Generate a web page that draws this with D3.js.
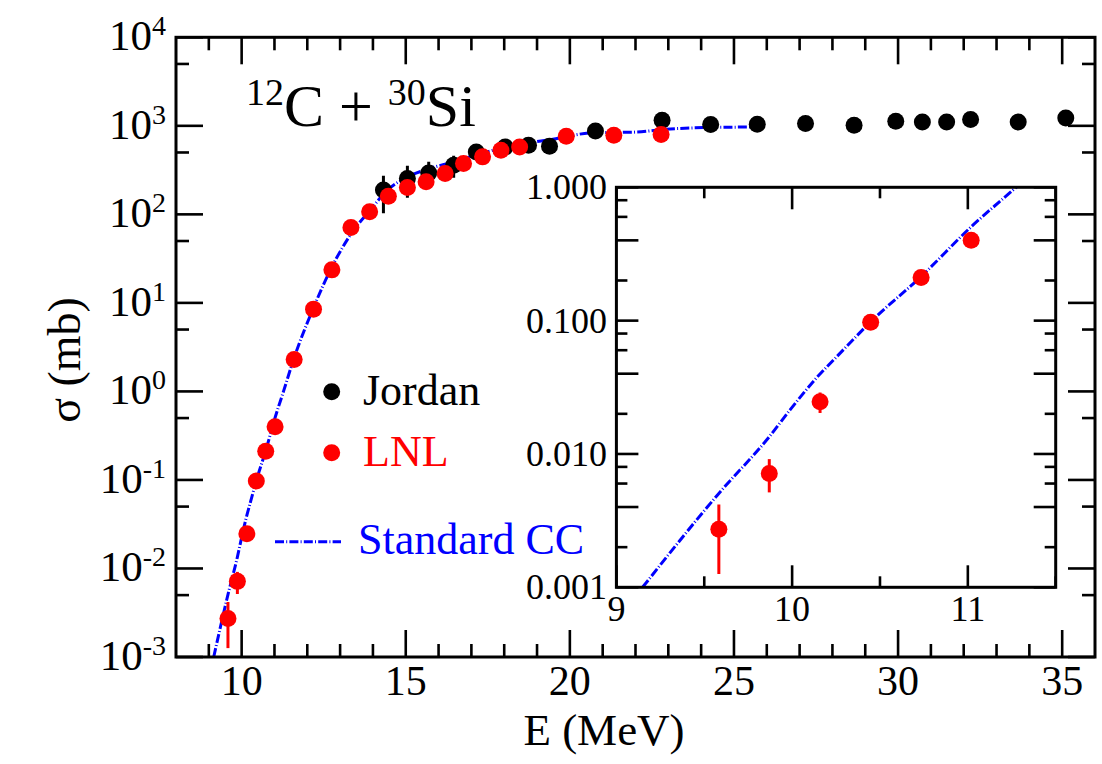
<!DOCTYPE html>
<html><head><meta charset="utf-8">
<script src="https://cdn.jsdelivr.net/npm/d3@7"></script>
<style>body{margin:0;background:#fff}svg{display:block}text{font-family:"Liberation Serif","Times New Roman",serif}</style>
</head><body>
<script>
// ---- data ----
const jordanE = [14.32, 15.05, 15.70, 16.46, 17.15, 18.03, 18.74, 19.38, 20.78, 22.81, 24.29, 25.71, 27.18, 28.66, 29.93, 30.74, 31.48, 32.21, 33.66, 35.11];
const jordanSigma = [188, 254, 294, 359, 507, 577, 603, 587, 875, 1156, 1033, 1042, 1061, 1015, 1127, 1107, 1107, 1178, 1107, 1227];
const jordanErr = [85, 100, 100, 100, 0, 0, 0, 0, 0, 0, 0, 0, 0, 0, 0, 0, 0, 0, 0, 0];

const lnlE = [9.583, 9.870, 10.159, 10.447, 10.734, 11.019, 11.6, 12.19, 12.75, 13.33, 13.9, 14.47, 15.05, 15.62, 16.2, 16.76, 17.34, 17.9, 18.47, 19.89, 21.34, 22.78];
const lnlSigma = [0.00272, 0.00715, 0.0246, 0.0971, 0.211, 0.40, 2.3, 8.5, 23.6, 71, 107, 160, 201, 233, 289, 375, 446, 530, 577, 762, 783, 797];
const lnlErr = [0.00146, 0.0020, 0.0043, 0, 0, 0, 0, 0, 0, 0, 0, 0, 0, 0, 0, 0, 0, 0, 0, 0, 0, 0];

const ccE = [9.149, 9.583, 9.870, 9.987, 10.129, 10.272, 10.447, 10.732, 11.02, 11.275, 11.6, 12.2, 12.7, 13.41, 13.92, 14.43, 15.04, 15.75, 16.46, 17.27, 18.09, 18.9, 19.61, 20.63, 22.05, 22.8, 24.08, 25.5, 25.73];
const ccSigma = [0.001, 0.00506, 0.01346, 0.0213, 0.036, 0.0568, 0.098, 0.213, 0.507, 1.0, 2.4, 9.0, 23.4, 66, 112, 186, 263, 332, 391, 486, 576, 657, 718, 832, 851, 907, 955, 970, 972];

const mainXTicks = [10, 15, 20, 25, 30, 35];
const mainYTicks = [-3, -2, -1, 0, 1, 2, 3, 4];
const insetXTicks = [9, 10, 11];
const insetYTicks = [0.001, 0.01, 0.1, 1];
const insetYLabels = ["0.001", "0.010", "0.100", "1.000"];

const legendItems = ["Jordan", "LNL", "Standard CC"];

// ---- drawing ----
const W = 1102, H = 764;
const svg = d3.select("body").append("svg").attr("width", W).attr("height", H);
svg.append("rect").attr("width", W).attr("height", H).attr("fill", "#fff");

const BLUE = "#0000ff", RED = "#ff0000", BLACK = "#000";
const DASH = "9,2.2,1,2.2";

const x = d3.scaleLinear().domain([8, 36]).range([176, 1095]);
const y = d3.scaleLog().domain([1e-3, 1e4]).range([657, 37.3]);

const defs = svg.append("defs");
defs.append("clipPath").attr("id", "mainClip").append("rect")
  .attr("x", 176).attr("y", 37.3).attr("width", 1095 - 176).attr("height", 657 - 37.3);

const g = svg.append("g");

// ticks main
function mainTicks() {
  const majL = 27, minL = 13;
  const xt = d3.range(9, 36, 1);
  xt.forEach(v => {
    const L = (v % 5 === 0) ? majL : minL;
    g.append("line").attr("x1", x(v)).attr("x2", x(v)).attr("y1", 657).attr("y2", 657 - L).attr("stroke", BLACK).attr("stroke-width", 2.6);
    g.append("line").attr("x1", x(v)).attr("x2", x(v)).attr("y1", 37.3).attr("y2", 37.3 + L).attr("stroke", BLACK).attr("stroke-width", 2.6);
  });
  const yt = [];
  mainYTicks.forEach(p => { yt.push({v: Math.pow(10, p), L: majL}); if (p < 4) yt.push({v: 5 * Math.pow(10, p), L: minL}); });
  yt.forEach(t => {
    g.append("line").attr("x1", 176).attr("x2", 176 + t.L).attr("y1", y(t.v)).attr("y2", y(t.v)).attr("stroke", BLACK).attr("stroke-width", 2.6);
    g.append("line").attr("x1", 1095).attr("x2", 1095 - t.L).attr("y1", y(t.v)).attr("y2", y(t.v)).attr("stroke", BLACK).attr("stroke-width", 2.6);
  });
  // labels
  mainXTicks.forEach(v => {
    g.append("text").attr("x", x(v)).attr("y", 695).attr("text-anchor", "middle").attr("font-size", 42).text(v);
  });
  mainYTicks.forEach(p => {
    const t = g.append("text").attr("x", 166).attr("y", y(Math.pow(10, p)) + 13).attr("text-anchor", "end").attr("font-size", 43);
    t.append("tspan").text("10");
    t.append("tspan").attr("font-size", 28).attr("dy", -15).text(p < 0 ? "-" + (-p) : String(p));
  });
}
mainTicks();

// CC line main
const lineMain = d3.line().x((d, i) => x(ccE[i])).y((d, i) => y(ccSigma[i])).curve(d3.curveMonotoneX);
g.append("path").attr("clip-path", "url(#mainClip)").attr("d", lineMain(ccE))
  .attr("fill", "none").attr("stroke", BLUE).attr("stroke-width", 3).attr("stroke-dasharray", DASH);

function drawPoints(grp, xs, ys, Es, Ss, Errs, color, r) {
  Es.forEach((e, i) => {
    if (Errs[i] > 0) {
      const lo = Math.max(Ss[i] - Errs[i], 1e-9);
      grp.append("line").attr("x1", xs(e)).attr("x2", xs(e))
        .attr("y1", ys(Ss[i] + Errs[i])).attr("y2", ys(lo)).attr("stroke", color).attr("stroke-width", 3);
    }
  });
  Es.forEach((e, i) => {
    grp.append("circle").attr("cx", xs(e)).attr("cy", ys(Ss[i])).attr("r", r).attr("fill", color);
  });
}
const pm = g.append("g").attr("clip-path", "url(#mainClip)");
drawPoints(pm, x, y, jordanE, jordanSigma, jordanErr, BLACK, 8.5);
drawPoints(pm, x, y, lnlE, lnlSigma, lnlErr, RED, 8.5);

// main frame
g.append("rect").attr("x", 176).attr("y", 37.3).attr("width", 1095 - 176).attr("height", 657 - 37.3)
  .attr("fill", "none").attr("stroke", BLACK).attr("stroke-width", 3);

// axis titles
g.append("text").attr("x", 604).attr("y", 745).attr("text-anchor", "middle").attr("font-size", 45).text("E (MeV)");
g.append("text").attr("transform", "translate(80,360) rotate(-90)").attr("text-anchor", "middle").attr("font-size", 46).text("σ (mb)");

// title
const tt = g.append("text").attr("x", 246).attr("y", 126).attr("font-size", 60);
tt.append("tspan").attr("font-size", 38).attr("dy", -21).text("12");
tt.append("tspan").attr("dy", 21).text("C + ");
tt.append("tspan").attr("font-size", 38).attr("dy", -21).text("30");
tt.append("tspan").attr("dy", 21).text("Si");

// legend
g.append("circle").attr("cx", 331.7).attr("cy", 391.7).attr("r", 8.5).attr("fill", BLACK);
g.append("text").attr("x", 363).attr("y", 405).attr("font-size", 44).attr("fill", BLACK).text(legendItems[0]);
g.append("circle").attr("cx", 331.7).attr("cy", 452.7).attr("r", 8.5).attr("fill", RED);
g.append("text").attr("x", 363).attr("y", 466).attr("font-size", 44).attr("fill", RED).text(legendItems[1]);
g.append("line").attr("x1", 275).attr("x2", 341).attr("y1", 541.7).attr("y2", 541.7)
  .attr("stroke", BLUE).attr("stroke-width", 3).attr("stroke-dasharray", DASH);
g.append("text").attr("x", 358).attr("y", 554).attr("font-size", 44).attr("fill", BLUE).text(legendItems[2]);

// ---- inset ----
const ix = d3.scaleLinear().domain([9, 11.5]).range([616.4, 1055.7]);
const iy = d3.scaleLog().domain([1e-3, 1]).range([587.3, 187.3]);
defs.append("clipPath").attr("id", "insetClip").append("rect")
  .attr("x", 616.4).attr("y", 187.3).attr("width", 1055.7 - 616.4).attr("height", 587.3 - 187.3);
const ig = svg.append("g");
ig.append("rect").attr("x", 616.4).attr("y", 187.3).attr("width", 1055.7 - 616.4).attr("height", 587.3 - 187.3).attr("fill", "#fff");
// inset ticks
const imaj = 22, imin = 11;
[9, 9.5, 10, 10.5, 11, 11.5].forEach(v => {
  const L = Number.isInteger(v) ? imaj : imin;
  ig.append("line").attr("x1", ix(v)).attr("x2", ix(v)).attr("y1", 587.3).attr("y2", 587.3 - L).attr("stroke", BLACK).attr("stroke-width", 2.6);
  ig.append("line").attr("x1", ix(v)).attr("x2", ix(v)).attr("y1", 187.3).attr("y2", 187.3 + L).attr("stroke", BLACK).attr("stroke-width", 2.6);
});
const iyt = [];
[0.001, 0.01, 0.1].forEach(d => {
  iyt.push({v: d, L: imaj}); iyt.push({v: 2 * d, L: imin}); iyt.push({v: 4 * d, L: imaj});
  iyt.push({v: 6 * d, L: imin}); iyt.push({v: 8 * d, L: imin});
});
iyt.push({v: 1, L: imaj});
iyt.forEach(t => {
  ig.append("line").attr("x1", 616.4).attr("x2", 616.4 + t.L).attr("y1", iy(t.v)).attr("y2", iy(t.v)).attr("stroke", BLACK).attr("stroke-width", 2.6);
  ig.append("line").attr("x1", 1055.7).attr("x2", 1055.7 - t.L).attr("y1", iy(t.v)).attr("y2", iy(t.v)).attr("stroke", BLACK).attr("stroke-width", 2.6);
});
insetXTicks.forEach(v => {
  ig.append("text").attr("x", ix(v)).attr("y", 621).attr("text-anchor", "middle").attr("font-size", 36).text(v);
});
insetYTicks.forEach((v, i) => {
  ig.append("text").attr("x", 607).attr("y", iy(v) + 12).attr("text-anchor", "end").attr("font-size", 36).text(insetYLabels[i]);
});
const lineInset = d3.line().x((d, i) => ix(ccE[i])).y((d, i) => iy(ccSigma[i])).curve(d3.curveMonotoneX);
ig.append("path").attr("clip-path", "url(#insetClip)").attr("d", lineInset(ccE))
  .attr("fill", "none").attr("stroke", BLUE).attr("stroke-width", 3).attr("stroke-dasharray", DASH);
const ip = ig.append("g").attr("clip-path", "url(#insetClip)");
drawPoints(ip, ix, iy, lnlE, lnlSigma, lnlErr, RED, 8.5);
ig.append("rect").attr("x", 616.4).attr("y", 187.3).attr("width", 1055.7 - 616.4).attr("height", 587.3 - 187.3)
  .attr("fill", "none").attr("stroke", BLACK).attr("stroke-width", 3);
</script>
</body></html>
